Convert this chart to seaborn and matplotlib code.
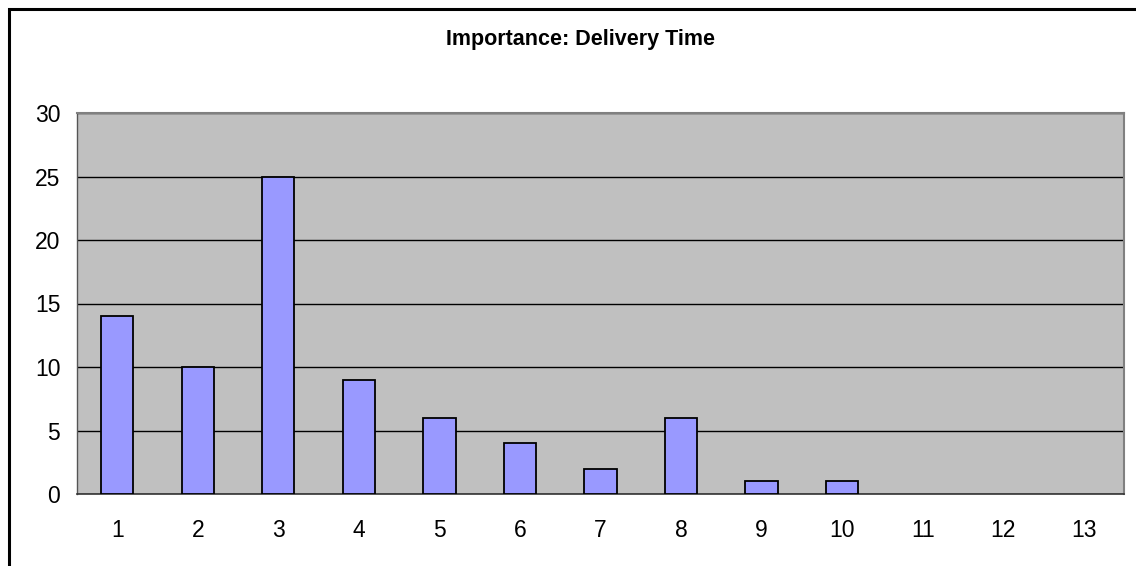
import matplotlib
matplotlib.use("Agg")
import matplotlib.pyplot as plt
import seaborn as sns
import pandas as pd
from matplotlib.patches import Rectangle
from matplotlib.ticker import FixedLocator

categories = [str(i) for i in range(1, 14)]
values = [14, 10, 25, 9, 6, 4, 2, 6, 1, 1, 0, 0, 0]
title = "Importance: Delivery Time"
y_ticks = [0, 5, 10, 15, 20, 25, 30]

sns.set_style("white")
plt.rcParams['font.family'] = ['Liberation Sans', 'DejaVu Sans']
plt.rcParams['text.color'] = 'black'
plt.rcParams['xtick.color'] = 'black'
plt.rcParams['ytick.color'] = 'black'

W, H = 1136, 566
fig = plt.figure(figsize=(W / 100, H / 100), dpi=100)
ax = fig.add_axes([77 / W, 1 - 494 / H, (1124 - 77) / W, (494 - 113) / H])
ax.set_facecolor('#C0C0C0')

df = pd.DataFrame({"cat": categories, "val": values})
sns.barplot(data=df, x="cat", y="val", ax=ax, color='#9999FF', saturation=1,
            width=0.4, edgecolor='black', linewidth=1.3, zorder=3)
for p in ax.patches:
    if p.get_height() == 0:
        p.set_visible(False)

ax.set_xlim(-0.5, len(categories) - 0.5)
ax.set_ylim(0, 30)
ax.set_yticks(y_ticks)
ax.set_yticklabels([str(t) for t in y_ticks])
ax.yaxis.grid(True, color='black', linewidth=1.0, zorder=1)
ax.set_axisbelow(True)
ax.set_xlabel("")
ax.set_ylabel("")

# x: major ticks between categories, labels on minor ticks
ax.xaxis.set_major_locator(FixedLocator([i - 0.5 for i in range(len(categories) + 1)]))
ax.set_xticklabels([])
ax.xaxis.set_minor_locator(FixedLocator(list(range(len(categories)))))
ax.set_xticklabels(categories, minor=True)
ax.tick_params(axis='x', which='major', direction='out', length=4.5, width=1, color='#333333')
ax.tick_params(axis='x', which='minor', length=0, pad=18, labelsize=16.5, labelcolor='black')
ax.tick_params(axis='y', direction='out', length=6, width=1, color='#333333', pad=6,
               labelsize=16.5, labelcolor='black')

for s in ['top', 'right']:
    ax.spines[s].set_color('#808080')
    ax.spines[s].set_linewidth(1.5)
ax.spines['left'].set_color('#555555')
ax.spines['bottom'].set_color('#333333')
ax.spines['left'].set_linewidth(1.0)
ax.spines['bottom'].set_linewidth(1.2)

fig.text(580 / W, 1 - 40 / H, title, ha='center', va='center',
         fontsize=15.5, fontweight='bold', color='black')

# outer chart border (extends past right/bottom edges)
fig.patches.append(Rectangle((9 / W, -0.1), 1.2, 1 - 9 / H + 0.1, transform=fig.transFigure,
                             fill=False, edgecolor='black', linewidth=2.2, clip_on=False))

fig.savefig("out.png", dpi=100, facecolor='white')
